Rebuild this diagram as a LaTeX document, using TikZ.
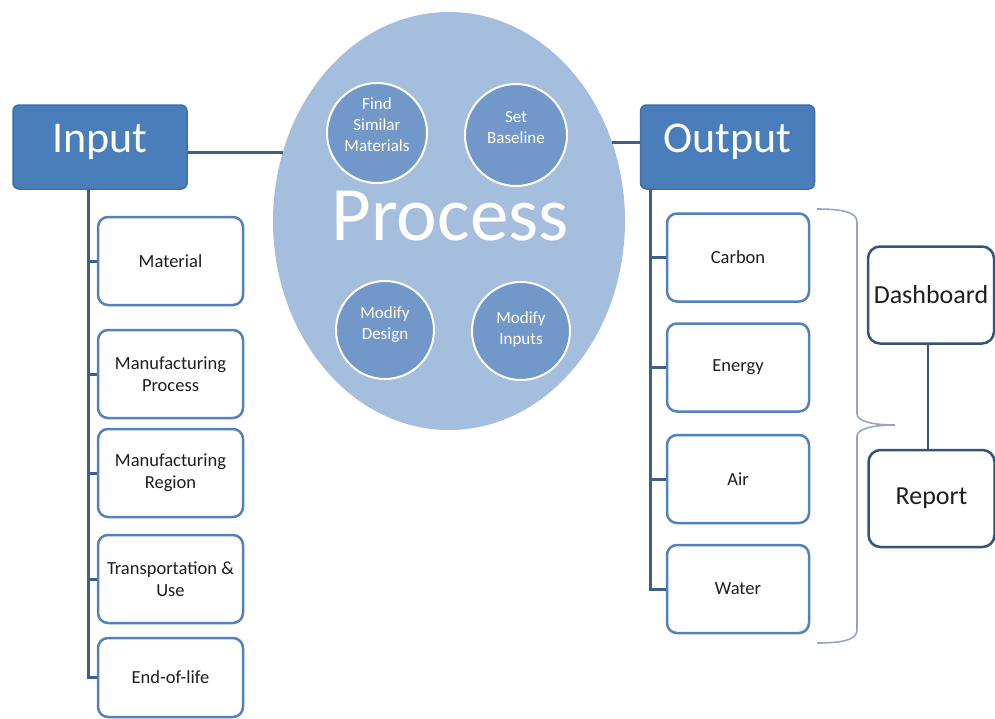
\documentclass[tikz,border=0pt]{standalone}
\usepackage{fontspec}
\setmainfont{Carlito}
\usetikzlibrary{shapes.geometric}
\definecolor{headblue}{HTML}{4A7EBB}
\definecolor{headedge}{HTML}{3F6FA8}
\definecolor{boxedge}{HTML}{5381BC}
\definecolor{linkblue}{HTML}{3C5F8E}
\definecolor{ovalfill}{HTML}{A6BEDE}
\definecolor{subfill}{HTML}{7298CA}
\definecolor{bracegray}{HTML}{93A7C2}
\definecolor{navyedge}{HTML}{365378}
\definecolor{inktext}{HTML}{1E1E1E}
\begin{document}
\begin{tikzpicture}[x=1pt,y=-1pt,
  headbox/.style={draw=headedge,line width=1.5pt,fill=headblue,rounded corners=6pt,
    minimum width=174pt,minimum height=84pt,inner sep=0pt,text=white,
    font=\fontsize{44}{48}\selectfont,text height=30pt,text depth=20pt},
  itembox/.style={draw=boxedge,line width=2.5pt,fill=white,rounded corners=10pt,
    minimum height=88pt,inner sep=0pt,text=inktext,align=center,
    font=\fontsize{18.5}{22}\selectfont},
  inbox/.style={itembox,minimum width=145pt},
  outbox/.style={itembox,minimum width=142pt},
  sidebox/.style={draw=navyedge,line width=2.5pt,fill=white,rounded corners=12pt,
    minimum width=126pt,minimum height=97pt,inner sep=0pt,text=inktext,
    font=\fontsize{26}{30}\selectfont},
  subcirc/.style={circle,draw=white,line width=2pt,fill=subfill,minimum size=#1,inner sep=0pt},
  subtext/.style={text=white,align=center,font=\fontsize{17}{21}\selectfont},
  conn/.style={draw=linkblue,line width=3pt},
]
\useasboundingbox (0,0) rectangle (995,718);

% central process oval with its four activities
\node[ellipse,fill=ovalfill,minimum width=352pt,minimum height=418pt,inner sep=0pt] (proc) at (449,221) {};
\node[subcirc=100pt] (find) at (377,133) {};
\node[subcirc=102pt] (base) at (516,135) {};
\node[subcirc=98pt]  (mdes) at (385,330) {};
\node[subcirc=98pt]  (minp) at (521,331) {};
\node[subtext] (findt) at (377,125) {Find\\Similar\\Materials};
\node[subtext] (baset) at (516,128) {Set\\Baseline};
\node[subtext] (mdest) at (385,325) {Modify\\Design};
\node[subtext] (minpt) at (521,329) {Modify\\Inputs};
\node[anchor=base,text=white,font=\fontsize{77}{80}\selectfont] (ptitle) at (450,240) {Process};

% input side
\node[headbox] (inp) at (100,147) {Input};
\node[inbox] (mat)   at (170.5,261) {Material};
\node[inbox] (mproc) at (170.5,374) {Manufacturing\\Process};
\node[inbox] (mreg)  at (170.5,473) {Manufacturing\\Region};
\node[inbox] (trans) at (170.5,579) {Transportation \&\\Use};
\node[inbox,minimum height=79pt] (eol) at (170.5,677.5) {End-of-life};

% output side
\node[headbox] (out) at (727.5,147) {Output};
\node[outbox] (carbon) at (738,257.5) {Carbon};
\node[outbox] (energy) at (738,367.5) {Energy};
\node[outbox] (air)    at (738,479) {Air};
\node[outbox] (water)  at (738,589) {Water};

% reporting
\node[sidebox] (dash) at (931,295) {Dashboard};
\node[sidebox] (rep)  at (931.5,498.5) {Report};

% connectors
\coordinate (pl) at (283,152);
\coordinate (pr) at (612,142);
\draw[conn] (pl -| inp.east) -- (pl);
\draw[conn] (pr) -- (pr -| out.west);

\coordinate (ispine) at (88,189);
\draw[conn] (ispine) |- (eol.west);
\foreach \n in {mat,mproc,mreg,trans}
  \draw[conn] (ispine |- \n.west) -- (\n.west);

\coordinate (ospine) at (650,189);
\draw[conn] (ospine) |- (water.west);
\foreach \n in {carbon,energy,air}
  \draw[conn] (ospine |- \n.west) -- (\n.west);

\draw[draw=navyedge,line width=2.5pt] (dash.south -| 928,0) -- (rep.north -| 928,0);

% brace grouping the outputs
\draw[bracegray,line width=1.6pt]
  (817,209) .. controls (842,209) and (857,212) .. (857,222)
  -- (857,414) .. controls (857,421) and (872,425) .. (895,425)
  .. controls (872,425) and (857,429) .. (857,436)
  -- (857,630) .. controls (857,640) and (842,643) .. (817,643);
\end{tikzpicture}
\end{document}
